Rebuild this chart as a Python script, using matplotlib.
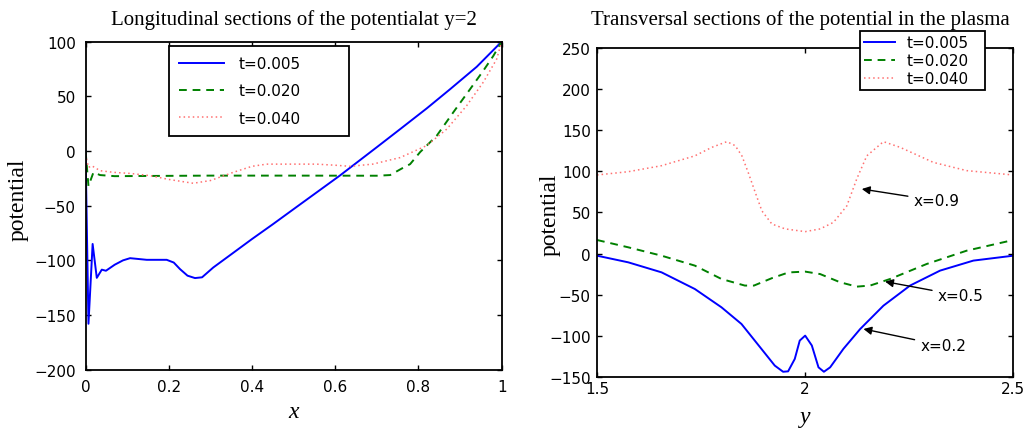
import matplotlib
matplotlib.use("Agg")
import matplotlib.pyplot as plt

# longitudinal section at y=2, potential vs x
blue_x = [0, 0.007, 0.017, 0.027, 0.039, 0.049, 0.07, 0.09, 0.107, 0.147, 0.195, 0.212,
          0.227, 0.245, 0.263, 0.28, 0.307, 0.35, 0.4, 0.45, 0.515, 0.611, 0.7, 0.756,
          0.82, 0.876, 0.94, 1.0]
blue_v = [0, -158, -85, -116, -108.5, -109.5, -104, -100, -98, -99.5, -99.5, -102,
          -108, -114, -116.2, -115.5, -106.5, -94.5, -80.5, -67, -49, -22.5, 3.5, 20,
          39, 56.5, 77, 100]

green_x = [0, 0.007, 0.019, 0.035, 0.07, 0.155, 0.3, 0.5, 0.7, 0.732, 0.76, 0.78,
           0.804, 0.844, 0.884, 0.924, 0.956, 0.98, 1.0]
green_v = [0, -32, -19.5, -22, -23, -22.8, -22.5, -22.5, -22.6, -22, -16, -12,
           -1, 14, 35.5, 56.5, 73.5, 87, 100]

pink_x = [0, 0.007, 0.015, 0.035, 0.067, 0.107, 0.155, 0.2, 0.259, 0.3, 0.355, 0.4,
          0.435, 0.555, 0.6, 0.636, 0.69, 0.756, 0.82, 0.868, 0.916, 0.956, 0.988, 1.0]
pink_v = [-3, -15, -13.5, -18, -19.5, -20.5, -22.5, -26, -29.5, -27, -19.5, -14,
          -12, -12, -13, -14, -12, -6, 5, 20, 41.5, 63, 84, 100]

# transversal sections, potential vs y
blue_y = [1.5, 1.575, 1.655, 1.735, 1.799, 1.847, 1.895, 1.927, 1.947, 1.959, 1.975,
          1.987, 2.0, 2.016, 2.032, 2.045, 2.06, 2.092, 2.132, 2.188, 2.252, 2.324,
          2.404, 2.5]
blue_t = [-2.6, -10.7, -22.9, -43.2, -65.5, -85.8, -116.2, -136.5, -144, -143.5, -128.4,
          -106, -100, -112, -138.6, -144, -138.6, -116, -92, -63.5, -39, -20.8,
          -8.6, -2.6]

green_y = [1.5, 1.575, 1.655, 1.735, 1.799, 1.855, 1.877, 1.92, 1.96, 2.0, 2.036,
           2.084, 2.124, 2.156, 2.204, 2.292, 2.388, 2.5]
green_t = [16.5, 7.6, -2.6, -14.7, -31, -39, -39, -30, -23, -22, -25,
           -35, -40.3, -39, -31, -12.7, 3.5, 16.5]

pink_y = [1.5, 1.575, 1.655, 1.735, 1.776, 1.812, 1.832, 1.848, 1.863, 1.88, 1.896,
          1.92, 1.952, 2.0, 2.036, 2.068, 2.1, 2.124, 2.148, 2.188, 2.228, 2.308,
          2.388, 2.5]
pink_t = [95.7, 99.7, 107, 119, 129.4, 136.3, 131.4, 119, 99, 74.6, 52,
          36, 30, 26.7, 30, 38, 58, 91, 119, 136.3, 129.4, 111,
          101, 95.7]

labels = ["t=0.005", "t=0.020", "t=0.040"]

left_xticks = [0, 0.2, 0.4, 0.6, 0.8, 1.0]
left_xlabels = ["0", "0.2", "0.4", "0.6", "0.8", "1"]
left_yticks = [-200, -150, -100, -50, 0, 50, 100]
right_xticks = [1.5, 2.0, 2.5]
right_xlabels = ["1.5", "2", "2.5"]
right_yticks = [-150, -100, -50, 0, 50, 100, 150, 200, 250]

# annotations: text, arrow tip (y, value), text anchor (y, value)
notes = [("x=0.9", (2.136, 78.6), (2.26, 64.4)),
         ("x=0.5", (2.192, -34.2), (2.318, -51.3)),
         ("x=0.2", (2.14, -91.9), (2.276, -112.2))]

plt.rcParams["font.family"] = "DejaVu Sans"
plt.rcParams["font.size"] = 11
serif = "Liberation Serif"

fig = plt.figure(figsize=(10.32, 4.31), dpi=100)
ax1 = fig.add_axes([0.0829, 0.1399, 0.4032, 0.7611])
ax2 = fig.add_axes([0.5785, 0.1237, 0.4034, 0.7619])

styles = [dict(color="#0000ff", lw=1.4, ls="-"),
          dict(color="#008000", lw=1.4, ls=(0, (4, 3))),
          dict(color="#ff7070", lw=1.1, ls=(0, (1, 2)))]

for xs, vs, lab, st in zip([blue_x, green_x, pink_x], [blue_v, green_v, pink_v], labels, styles):
    ax1.plot(xs, vs, label=lab, **st)
for ys, vs, lab, st in zip([blue_y, green_y, pink_y], [blue_t, green_t, pink_t], labels, styles):
    ax2.plot(ys, vs, label=lab, **st)

ax1.set_xlim(0, 1)
ax1.set_ylim(-200, 100)
ax1.set_xticks(left_xticks)
ax1.set_xticklabels(left_xlabels)
ax1.set_yticks(left_yticks)

ax2.set_xlim(1.5, 2.5)
ax2.set_ylim(-150, 250)
ax2.set_xticks(right_xticks)
ax2.set_xticklabels(right_xlabels)
ax2.set_yticks(right_yticks)

for ax in (ax1, ax2):
    ax.tick_params(direction="in", top=True, right=True, length=3.5, width=1.0)
    for sp in ax.spines.values():
        sp.set_linewidth(1.3)
ax1.tick_params(axis="x", pad=7)
ax1.tick_params(axis="y", pad=7)
ax2.tick_params(axis="x", pad=3)
ax2.tick_params(axis="y", pad=4.5)

fig.text(0.2844, 1 - 25 / 431, "Longitudinal sections of the potentialat y=2",
         family=serif, fontsize=15, ha="center", va="baseline")
fig.text(0.7757, 1 - 25 / 431, "Transversal sections of the potential in the plasma",
         family=serif, fontsize=15, ha="center", va="baseline")

ax1.set_xlabel("x", family=serif, style="italic", fontsize=17)
ax2.set_xlabel("y", family=serif, style="italic", fontsize=17)
ax1.set_ylabel("potential", family=serif, fontsize=17)
ax2.set_ylabel("potential", family=serif, fontsize=17)
ax1.xaxis.set_label_coords(0.5, -0.095)
ax2.xaxis.set_label_coords(0.5, -0.09)
ax1.yaxis.set_label_coords(-0.137, 0.52)
ax2.yaxis.set_label_coords(-0.088, 0.495)

leg1 = ax1.legend(loc="upper left", bbox_to_anchor=(0.2, 0.686, 0.433, 0.302),
                  mode="expand", borderaxespad=0, fancybox=False, framealpha=1,
                  edgecolor="black", handlelength=2.9, handletextpad=0.96,
                  labelspacing=0.8, borderpad=0.69)
leg1.get_frame().set_linewidth(1.3)
leg2 = ax2.legend(loc="upper left", bbox_to_anchor=(0.632, 0.846, 0.3, 0.206),
                  mode="expand", borderaxespad=0, fancybox=False, framealpha=1,
                  edgecolor="black", handlelength=2.0, handletextpad=0.77,
                  labelspacing=0.19, borderpad=0.27)
leg2.get_frame().set_linewidth(1.3)

for text, tip, pos in notes:
    ax2.annotate(text, xy=tip, xytext=pos, ha="left", va="center",
                 arrowprops=dict(arrowstyle="-|>", color="black", lw=1.0,
                                 mutation_scale=12, shrinkA=2, shrinkB=0))

fig.savefig("out.png", dpi=100)
